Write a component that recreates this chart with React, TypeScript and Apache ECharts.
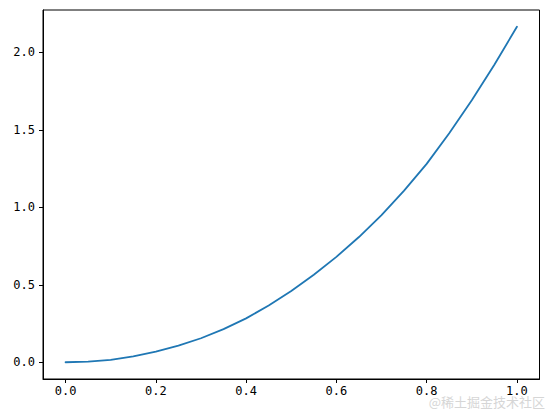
import React, { useEffect, useRef } from "react";
import * as echarts from "echarts";

const xValues = [0, 0.05, 0.1, 0.15, 0.2, 0.25, 0.3, 0.35, 0.4, 0.45, 0.5, 0.55, 0.6, 0.65, 0.7, 0.75, 0.8, 0.85, 0.9, 0.95, 1.0];
const yValues = [0, 0.004, 0.016, 0.038, 0.069, 0.108, 0.155, 0.214, 0.283, 0.366, 0.46, 0.565, 0.68, 0.808, 0.95, 1.108, 1.28, 1.478, 1.69, 1.92, 2.165];
const xTicks = [0, 0.2, 0.4, 0.6, 0.8, 1.0];
const yTicks = [0, 0.5, 1.0, 1.5, 2.0];
const watermark = "@稀土掘金技术社区";

export default function App() {
  const ref = useRef<HTMLDivElement>(null);
  useEffect(() => {
    if (!ref.current) return;
    const chart = echarts.init(ref.current, undefined, { renderer: "svg" });
    const font = "DejaVu Sans Mono";
    chart.setOption({
      animation: false,
      backgroundColor: "#ffffff",
      grid: {
        left: 43,
        right: 8.5,
        top: 10,
        bottom: 33,
        show: true,
        borderColor: "#000",
        borderWidth: 1,
        backgroundColor: "transparent",
      },
      xAxis: {
        type: "value",
        min: -0.05,
        max: 1.05,
        axisLine: { show: true, onZero: false, lineStyle: { color: "#000", width: 1 } },
        axisTick: { show: true, length: 4, customValues: xTicks, lineStyle: { color: "#000" } },
        axisLabel: {
          customValues: xTicks,
          margin: 6,
          color: "#000",
          fontFamily: font,
          fontSize: 12,
          formatter: (v: number) => v.toFixed(1),
        },
        splitLine: { show: false },
      },
      yAxis: {
        type: "value",
        min: -0.108,
        max: 2.273,
        axisLine: { show: true, onZero: false, lineStyle: { color: "#000", width: 1 } },
        axisTick: { show: true, length: 4, customValues: yTicks, lineStyle: { color: "#000" } },
        axisLabel: {
          customValues: yTicks,
          margin: 8,
          color: "#000",
          fontFamily: font,
          fontSize: 12,
          formatter: (v: number) => v.toFixed(1),
        },
        splitLine: { show: false },
      },
      series: [
        {
          type: "line",
          data: xValues.map((x, i) => [x, yValues[i]]),
          smooth: false,
          showSymbol: false,
          lineStyle: { color: "#1f77b4", width: 1.8, join: "round", cap: "round" },
        },
      ],
      graphic: [
        {
          type: "text",
          right: 3,
          top: 395,
          style: {
            text: watermark,
            fill: "#d6d6d6",
            font: "13px 'Noto Sans CJK SC'",
          },
        },
      ],
    });
    return () => chart.dispose();
  }, []);
  return <div ref={ref} style={{ width: 548, height: 412, position: "absolute", left: 0, top: 0 }} />;
}
